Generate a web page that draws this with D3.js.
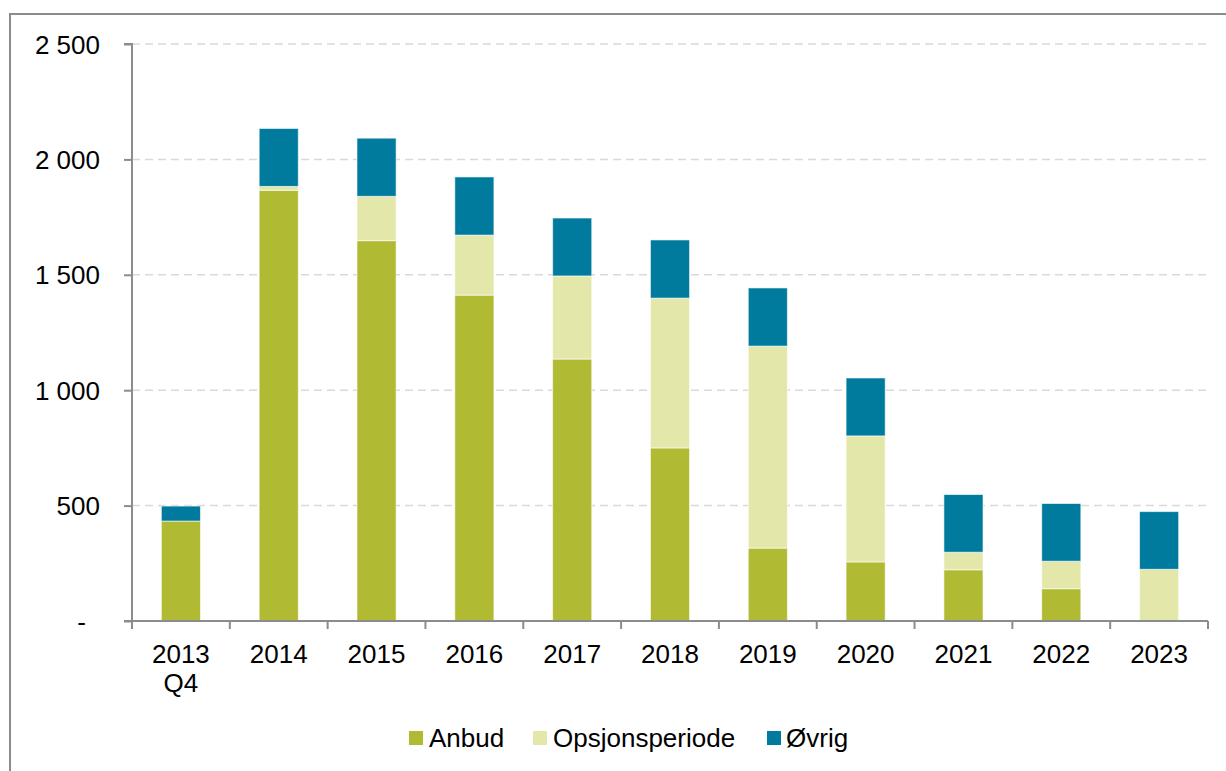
<!DOCTYPE html>
<html lang="no">
<head>
  <meta charset="UTF-8">
  <title>Anbud / Opsjonsperiode / Øvrig</title>
  <script src="https://cdn.jsdelivr.net/npm/d3@7/dist/d3.min.js"></script>
  <style>
    html, body { margin: 0; padding: 0; background: #fff; }
    svg { display: block; font-family: "Liberation Sans", Arial, sans-serif; }
    .grid line { stroke: #d9d9d9; stroke-dasharray: 8 5; stroke-width: 1.5; }
    .axis path, .axis line { stroke: #8c8c8c; stroke-width: 2; }
    .axis text { font-size: 26px; fill: #000; }
  </style>
</head>
<body>
  <svg width="1226" height="771"></svg>

  <script>
    const categories = ['2013|Q4', '2014', '2015', '2016', '2017', '2018', '2019', '2020', '2021', '2022', '2023']
    const anbud = [433, 1866, 1648, 1412, 1135, 750, 316, 256, 222, 140, 0]
    const opsjonsperiode = [0, 17, 192, 260, 360, 649, 875, 546, 76, 119, 224]
    const ovrig = [65, 251, 252, 252, 251, 252, 252, 251, 250, 250, 250]
    const seriesNames = ['Anbud', 'Opsjonsperiode', 'Øvrig']
    const yTicks = [0, 500, 1000, 1500, 2000, 2500]

    const colors = { 'Anbud': '#b1ba33', 'Opsjonsperiode': '#e3e8aa', 'Øvrig': '#007b9e' }

    const svg = d3.select('svg')
    const plotLeft = 132, plotRight = 1208, plotTop = 44, plotBottom = 621

    // outer frame
    svg.append('rect')
      .attr('x', 10).attr('y', 14)
      .attr('width', 1240).attr('height', 800)
      .attr('fill', 'none').attr('stroke', '#8c8c8c').attr('stroke-width', 2)

    const table = categories.map((c, i) => ({
      cat: c, 'Anbud': anbud[i], 'Opsjonsperiode': opsjonsperiode[i], 'Øvrig': ovrig[i]
    }))
    const stacked = d3.stack().keys(seriesNames)(table)

    const x = d3.scaleBand().domain(categories).range([plotLeft, plotRight]).paddingInner(0.6).paddingOuter(0.3)
    const y = d3.scaleLinear().domain([0, 2500]).range([plotBottom, plotTop])

    // gridlines
    svg.append('g').attr('class', 'grid')
      .selectAll('line')
      .data(yTicks.filter(d => d > 0))
      .enter().append('line')
      .attr('x1', plotLeft).attr('x2', plotRight)
      .attr('y1', d => y(d)).attr('y2', d => y(d))

    // bars
    svg.append('g')
      .selectAll('g')
      .data(stacked)
      .enter().append('g')
      .attr('fill', d => colors[d.key])
      .selectAll('rect')
      .data(d => d)
      .enter().append('rect')
      .attr('x', d => x(d.data.cat))
      .attr('width', x.bandwidth())
      .attr('y', d => y(d[1]))
      .attr('height', d => y(d[0]) - y(d[1]))
      .attr('stroke', d => (d[1] - d[0]) > 0 ? 'rgba(255,255,255,0.6)' : 'none')
      .attr('stroke-width', 1)

    // y axis
    const yAxis = svg.append('g').attr('class', 'axis')
      .attr('transform', `translate(${plotLeft},0)`)
      .call(d3.axisLeft(y).tickValues(yTicks).tickSize(8).tickPadding(24)
        .tickFormat(d => d === 0 ? '-' : d3.format(',')(d).replace(/,/g, ' ')))
    yAxis.select('.domain').attr('d', `M${-8},${plotTop}H0V${plotBottom}`)
    yAxis.selectAll('text').attr('dy', '0.35em')
    yAxis.selectAll('.tick').filter(d => d === 0).select('text').attr('x', -46)

    // x axis
    const xTickPos = categories.map((c, i) => plotLeft + i * (plotRight - plotLeft) / categories.length).concat([plotRight])
    const xAxisG = svg.append('g').attr('class', 'axis')
    xAxisG.append('line').attr('x1', plotLeft - 8).attr('x2', plotRight).attr('y1', plotBottom).attr('y2', plotBottom)
    xAxisG.selectAll('.tk').data(xTickPos).enter().append('line')
      .attr('x1', d => d).attr('x2', d => d).attr('y1', plotBottom).attr('y2', plotBottom + 8)
    xAxisG.selectAll('.lbl').data(categories).enter().append('text')
      .attr('x', d => x(d) + x.bandwidth() / 2)
      .attr('y', 663)
      .attr('text-anchor', 'middle')
      .each(function(d) {
        const parts = d.split('|')
        const t = d3.select(this)
        parts.forEach((p, i) => {
          t.append('tspan').attr('x', x(d) + x.bandwidth() / 2).attr('dy', i === 0 ? 0 : 29).text(p)
        })
      })

    // legend
    const legendItems = [
      { name: 'Anbud', sx: 409, tx: 429 },
      { name: 'Opsjonsperiode', sx: 533, tx: 553 },
      { name: 'Øvrig', sx: 767, tx: 786 }
    ]
    const legend = svg.append('g')
    legend.selectAll('rect').data(legendItems).enter().append('rect')
      .attr('x', d => d.sx).attr('y', 731).attr('width', 14).attr('height', 14)
      .attr('fill', d => colors[d.name])
    legend.selectAll('text').data(legendItems).enter().append('text')
      .attr('x', d => d.tx).attr('y', 747)
      .style('font-size', '26px')
      .text(d => d.name)
  </script>
</body>
</html>
